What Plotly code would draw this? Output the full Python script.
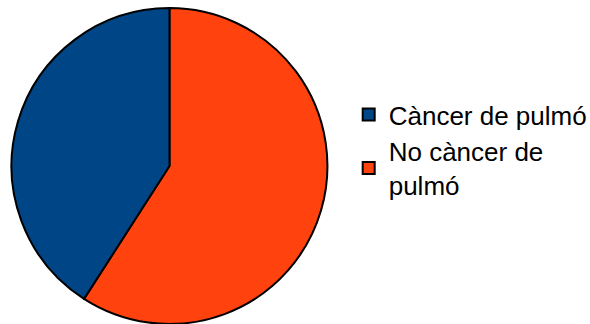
import plotly.graph_objects as go

labels = ["Càncer de pulmó", "No càncer de<br>pulmó"]
values = [40.9, 59.1]
colors = ["#004586", "#ff420e"]

# draw order reversed so the blue slice falls on the left, as in the reference
fig = go.Figure(go.Pie(
    labels=labels[::-1],
    values=values[::-1],
    sort=False,
    direction="clockwise",
    rotation=0,
    textinfo="none",
    hoverinfo="label+percent",
    marker=dict(colors=colors[::-1], line=dict(color="#000000", width=2)),
    domain=dict(x=[0.0195, 0.555], y=[0.0, 0.975]),
))

fig.update_layout(
    width=590, height=324,
    margin=dict(l=0, r=0, t=0, b=0, autoexpand=False),
    paper_bgcolor="white",
    plot_bgcolor="white",
    font=dict(family="Liberation Sans, Arial, sans-serif", size=26, color="#000000"),
    legend=dict(x=0.591, y=0.537, xanchor="left", yanchor="middle",
                xref="container", yref="container",
                traceorder="reversed",
                bgcolor="rgba(0,0,0,0)", tracegroupgap=0,
                font=dict(size=26)),
    showlegend=True,
)

fig.write_html("out.html")
